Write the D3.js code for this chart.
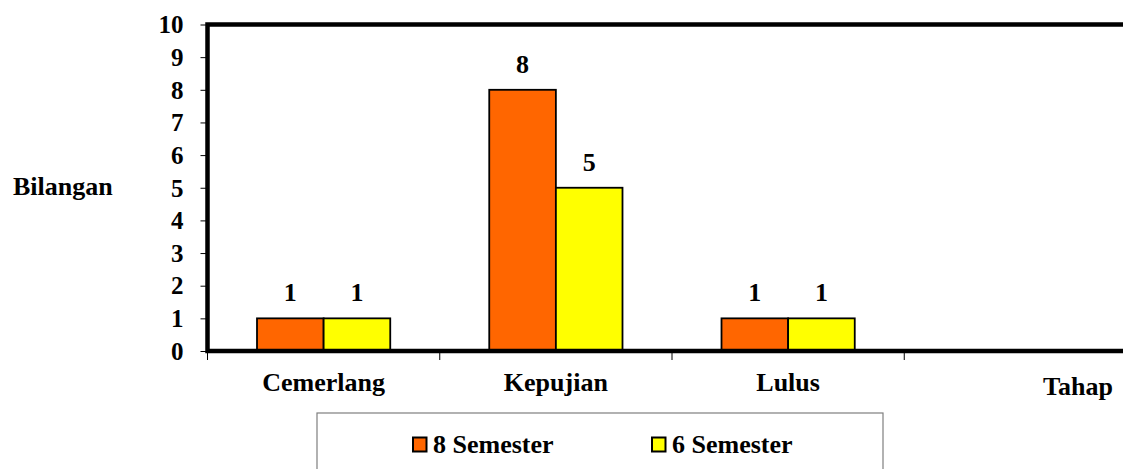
<!DOCTYPE html>
<html>
<head>
<meta charset="utf-8">
<script src="https://cdn.jsdelivr.net/npm/d3@7"></script>
<style>
  html, body { margin: 0; padding: 0; background: #fff; }
  text { font-family: "Liberation Serif", "Times New Roman", serif; font-weight: bold; fill: #000; }
</style>
</head>
<body>
<svg id="chart" width="1123" height="469"></svg>
<script>
// chart data
var categories = ["Cemerlang", "Kepujian", "Lulus", ""];
var seriesNames = ["8 Semester", "6 Semester"];
var sem8 = [1, 8, 1, null];
var sem6 = [1, 5, 1, null];
var yTicks = [0, 1, 2, 3, 4, 5, 6, 7, 8, 9, 10];
var colours = ["#FF6600", "#FFFF00"];

var svg = d3.select("#chart");

// plot area (right edge runs past the window, as in the picture)
var plotLeft = 207.5, plotTop = 24.5, plotBottom = 351, plotRight = 1136.5;

var x = d3.scaleBand()
    .domain(categories)
    .range([plotLeft, plotRight]);

var x1 = d3.scaleBand()
    .domain(seriesNames)
    .range([49.5, x.bandwidth() - 49.5]);

var y = d3.scaleLinear()
    .domain([0, 10])
    .range([plotBottom, plotTop]);

var values = [sem8, sem6];

// bars
categories.forEach(function(cat, i){
    seriesNames.forEach(function(s, j){
        var v = values[j][i];
        if (v == null) return;
        svg.append("rect")
            .attr("x", x(cat) + x1(s))
            .attr("y", y(v))
            .attr("width", x1.bandwidth())
            .attr("height", y(0) - y(v))
            .attr("fill", colours[j])
            .attr("stroke", "#000")
            .attr("stroke-width", 1.8);

        svg.append("text")
            .attr("x", x(cat) + x1(s) + x1.bandwidth() / 2)
            .attr("y", y(v) - 17)
            .attr("text-anchor", "middle")
            .attr("font-size", 26)
            .text(v);
    });
});

// y axis ticks + labels
var yAxis = d3.axisLeft(y)
    .tickValues(yTicks)
    .tickSize(7)
    .tickSizeOuter(0)
    .tickPadding(17)
    .tickFormat(d3.format("d"));

var gy = svg.append("g")
    .attr("transform", "translate(" + plotLeft + ",0)")
    .call(yAxis);
gy.select(".domain").remove();
gy.selectAll(".tick line").attr("stroke", "#000").attr("stroke-width", 1);
gy.selectAll(".tick text")
    .attr("font-size", 25)
    .attr("font-family", "Liberation Serif, Times New Roman, serif")
    .attr("font-weight", "bold")
    .attr("dy", "0.33em");

// x category boundary ticks
var bounds = categories.map(function(c){ return x(c); }).concat([x.range()[1]]);
svg.selectAll(".xtick")
    .data(bounds)
    .enter().append("line")
    .attr("x1", function(d){ return d; })
    .attr("x2", function(d){ return d; })
    .attr("y1", plotBottom)
    .attr("y2", plotBottom + 9)
    .attr("stroke", "#000")
    .attr("stroke-width", 1);

// category labels
svg.selectAll(".xlabel")
    .data(categories)
    .enter().append("text")
    .attr("x", function(d){ return x(d) + x.bandwidth() / 2; })
    .attr("y", 391)
    .attr("text-anchor", "middle")
    .attr("font-size", 26)
    .text(function(d){ return d; });

// plot frame: top, left and bottom thick lines
svg.append("path")
    .attr("d", "M" + plotRight + "," + plotTop + "H" + plotLeft + "V" + plotBottom + "H" + plotRight)
    .attr("fill", "none")
    .attr("stroke", "#000")
    .attr("stroke-width", 4.5);

// axis titles
svg.append("text")
    .attr("x", 13)
    .attr("y", 195)
    .attr("font-size", 26)
    .text("Bilangan");

svg.append("text")
    .attr("x", 1078)
    .attr("y", 395)
    .attr("text-anchor", "middle")
    .attr("font-size", 26)
    .text("Tahap");

// legend
var legend = svg.append("g");
legend.append("rect")
    .attr("x", 317)
    .attr("y", 413)
    .attr("width", 566)
    .attr("height", 80)
    .attr("fill", "#fff")
    .attr("stroke", "#7f7f7f")
    .attr("stroke-width", 1.2);

var legendX = [413, 652];
seriesNames.forEach(function(s, j){
    legend.append("rect")
        .attr("x", legendX[j])
        .attr("y", 437.5)
        .attr("width", 13.5)
        .attr("height", 14)
        .attr("fill", colours[j])
        .attr("stroke", "#000")
        .attr("stroke-width", 2);
    legend.append("text")
        .attr("x", legendX[j] + 20)
        .attr("y", 453)
        .attr("font-size", 26)
        .text(s);
});
</script>
</body>
</html>
